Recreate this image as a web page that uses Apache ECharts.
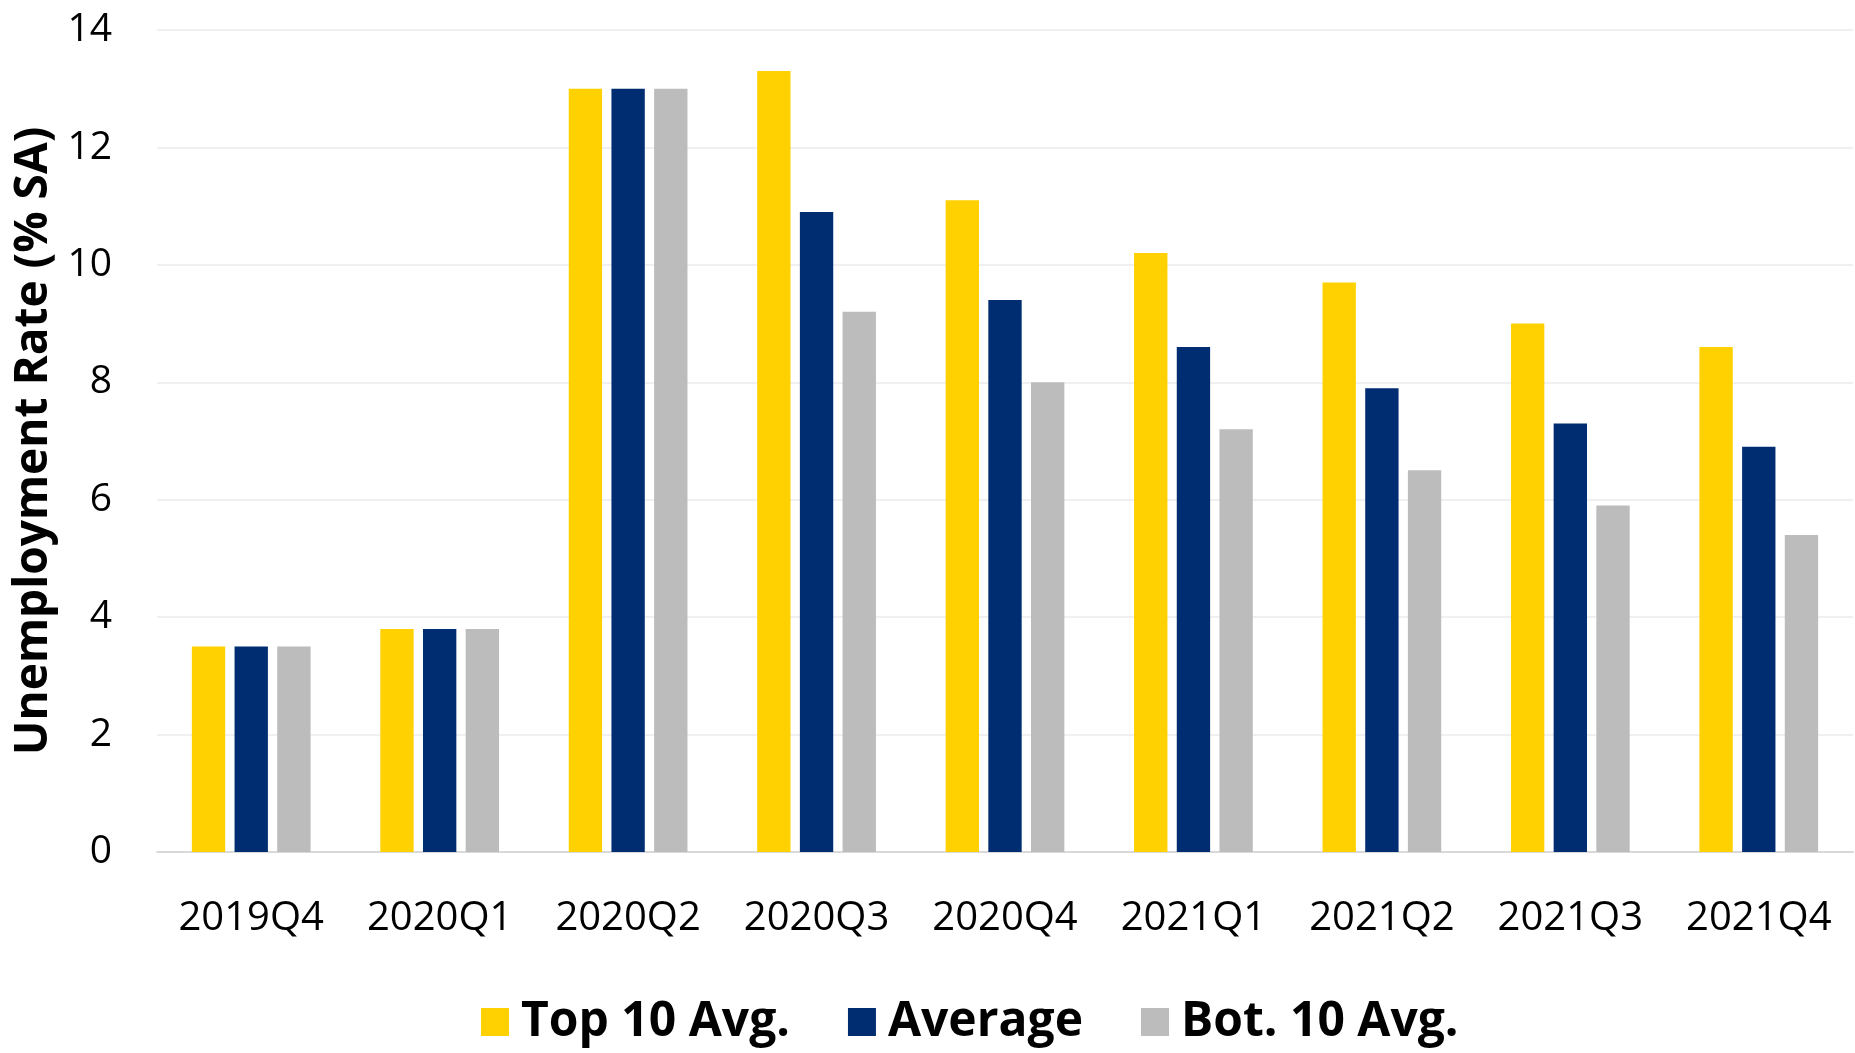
<!DOCTYPE html>
<html>
<head>
<meta charset="utf-8">
<script src="https://cdn.jsdelivr.net/npm/echarts@6/dist/echarts.min.js"></script>
<style>
  html, body { margin: 0; padding: 0; background: #fff; }
  #chart { width: 1855px; height: 1053px; }
</style>
</head>
<body>
<div id="chart"></div>
<script>
  const quarters = ['2019Q4', '2020Q1', '2020Q2', '2020Q3', '2020Q4', '2021Q1', '2021Q2', '2021Q3', '2021Q4'];
  const top10 = [3.5, 3.8, 13.0, 13.3, 11.1, 10.2, 9.7, 9.0, 8.6];
  const average = [3.5, 3.8, 13.0, 10.9, 9.4, 8.6, 7.9, 7.3, 6.9];
  const bot10 = [3.5, 3.8, 13.0, 9.2, 8.0, 7.2, 6.5, 5.9, 5.4];

  const font = '"Open Sans", "Noto Sans", sans-serif';
  let chart = echarts.init(document.getElementById('chart'));
  chart.setOption({
    animation: false,
    color: ['#FFD100', '#002D72', '#BDBCBC'],
    textStyle: { fontFamily: font },
    grid: { left: 157, right: 2, top: 30, bottom: 201 },
    legend: {
      bottom: 2,
      left: 476,
      itemWidth: 28,
      itemHeight: 28,
      itemGap: 58,
      icon: 'rect',
      textStyle: { fontSize: 48, fontWeight: 'bold', color: '#000', fontFamily: font, padding: [0, 0, 0, 7] },
      data: ['Top 10 Avg.', 'Average', 'Bot. 10 Avg.']
    },
    xAxis: {
      type: 'category',
      data: quarters,
      axisTick: { show: false },
      axisLine: { lineStyle: { color: '#D9D9D9', width: 2 } },
      axisLabel: { fontSize: 40, color: '#000', margin: 47, interval: 0, hideOverlap: false }
    },
    yAxis: {
      type: 'value',
      min: 0,
      max: 14,
      interval: 2,
      name: 'Unemployment Rate (% SA)',
      nameLocation: 'middle',
      nameGap: 100,
      nameTextStyle: { fontSize: 46, fontWeight: 'bold', color: '#000' },
      axisLine: { show: false },
      axisLabel: { fontSize: 39, color: '#000', margin: 45 },
      splitLine: { lineStyle: { color: '#F0F0F0', width: 2 } }
    },
    series: [
      { name: 'Top 10 Avg.', type: 'bar', data: top10, barGap: '28%', barCategoryGap: '37%' },
      { name: 'Average', type: 'bar', data: average },
      { name: 'Bot. 10 Avg.', type: 'bar', data: bot10 }
    ]
  });
</script>
</body>
</html>
